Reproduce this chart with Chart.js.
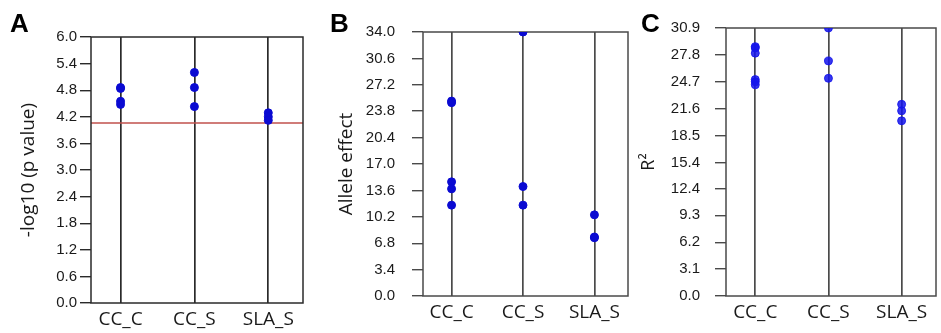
<!DOCTYPE html>
<html>
<head>
<meta charset="utf-8">
<script src="https://cdn.jsdelivr.net/npm/chart.js@4.4.0/dist/chart.umd.min.js"></script>
<style>
  body { margin: 0; background: #fff; }
  #wrap { position: relative; width: 941px; height: 333px; overflow: hidden; }
  .panel { position: absolute; top: 0; height: 333px; }
  .tag { position: absolute; font: bold 26px 'Liberation Sans', Arial, sans-serif; line-height: 26px; color: #000; }
</style>
</head>
<body>
<div id="wrap">
  <div class="panel" style="left:0;width:315px"><canvas id="chartA"></canvas></div>
  <div class="panel" style="left:315px;width:318px"><canvas id="chartB"></canvas></div>
  <div class="panel" style="left:633px;width:308px"><canvas id="chartC"></canvas></div>
  <div class="tag" style="left:10px;top:10px">A</div>
  <div class="tag" style="left:330px;top:10px">B</div>
  <div class="tag" style="left:641px;top:10px">C</div>
</div>
<script>
'use strict';

var categories = ['CC_C', 'CC_S', 'SLA_S'];

// panel A: -log10(p) of the hits, one list per trait
var logP = [[4.86, 4.84, 4.55, 4.48], [5.2, 4.86, 4.43], [4.29, 4.2, 4.12]];
var logPThreshold = 4.06;
var logPTicks = ['0.0', '0.6', '1.2', '1.8', '2.4', '3.0', '3.6', '4.2', '4.8', '5.4', '6.0'];

// panel B: allele effect
var alleleEffect = [[25.1, 24.9, 14.7, 13.8, 11.7], [34.0, 14.1, 11.7], [10.45, 7.6, 7.5]];
var alleleTicks = ['0.0', '3.4', '6.8', '10.2', '13.6', '17.0', '20.4', '23.8', '27.2', '30.6', '34.0'];

// panel C: R2
var rSquared = [[28.75, 28.6, 28.0, 24.95, 24.7, 24.35], [30.9, 27.1, 25.1], [22.1, 21.35, 20.2]];
var rSquaredTicks = ['0.0', '3.1', '6.2', '9.3', '12.4', '15.4', '18.5', '21.6', '24.7', '27.8', '30.9'];

// draws the frame round the plot area and the threshold line
var framePlugin = {
  id: 'frame',
  beforeDatasetsDraw: function(chart, args, opts) {
    var ctx = chart.ctx;
    var a = chart.chartArea;
    ctx.save();
    if (opts.threshold !== undefined) {
      var y = chart.scales.y.getPixelForValue(opts.threshold);
      ctx.strokeStyle = '#c0504d';
      ctx.lineWidth = 1.5;
      ctx.beginPath();
      ctx.moveTo(a.left, y);
      ctx.lineTo(a.right, y);
      ctx.stroke();
    }
    ctx.strokeStyle = opts.color;
    ctx.lineWidth = 1.5;
    ctx.strokeRect(a.left, a.top, a.right - a.left, a.bottom - a.top);
    ctx.restore();
  }
};

function makePanel(id, values, ticks, title, o) {
  var points = [];
  for (var i = 0; i < values.length; i++) {
    for (var j = 0; j < values[i].length; j++) {
      points.push({ x: i + 1, y: values[i][j] });
    }
  }
  var ctx = document.getElementById(id).getContext('2d');
  return new Chart(ctx, {
    type: 'scatter',
    data: {
      datasets: [{
        data: points,
        backgroundColor: o.dot,
        borderColor: o.dot,
        pointRadius: 4,
        pointHoverRadius: 4
      }]
    },
    options: {
      responsive: true,
      maintainAspectRatio: false,
      animation: false,
      layout: { padding: { top: o.top, right: o.right, left: 0, bottom: 0 } },
      plugins: {
        legend: { display: false },
        tooltip: { enabled: false },
        frame: { color: o.line, threshold: o.threshold }
      },
      scales: {
        x: {
          type: 'linear',
          min: 0.6,
          max: 3.47,
          afterBuildTicks: function(scale) {
            scale.ticks = categories.map(function(c, k) { return { value: k + 1 }; });
          },
          afterFit: function(scale) { scale.height = o.xHeight; },
          ticks: {
            callback: function(v, k) { return categories[k]; },
            font: { family: "'Open Sans'", size: 19 },
            color: '#1a1a1a',
            padding: 5,
            maxRotation: 0
          },
          grid: { color: o.line, lineWidth: 1.7, drawTicks: false },
          border: { display: false }
        },
        y: {
          min: 0,
          max: parseFloat(ticks[ticks.length - 1]),
          afterBuildTicks: function(scale) {
            scale.ticks = ticks.map(function(t) { return { value: parseFloat(t) }; });
          },
          afterFit: function(scale) { scale.width = o.yWidth; },
          ticks: {
            callback: function(v, k) { return ticks[k]; },
            font: { family: "'Liberation Sans'", size: 15 },
            color: '#1a1a1a',
            padding: o.tickPad
          },
          grid: { drawOnChartArea: false, drawTicks: true, tickLength: 11, color: o.line, lineWidth: 1.4 },
          border: { display: false },
          title: {
            display: true,
            text: title,
            font: { family: "'Open Sans'", size: o.titleSize },
            color: '#1a1a1a',
            padding: { top: o.titlePad, bottom: 0 }
          }
        }
      }
    },
    plugins: [framePlugin]
  });
}

makePanel('chartA', logP, logPTicks, '-log10 (p value)', {
  dot: '#0a0ad2', line: '#2a2a2a', threshold: logPThreshold,
  top: 37, right: 12, xHeight: 30, yWidth: 91, tickPad: 3, titleSize: 19, titlePad: 17
});
makePanel('chartB', alleleEffect, alleleTicks, 'Allele effect', {
  dot: '#0a0ad2', line: '#4a4a4a',
  top: 32, right: 2, xHeight: 37, yWidth: 108, tickPad: 17, titleSize: 19, titlePad: 20
});
makePanel('chartC', rSquared, rSquaredTicks, 'R\u00b2', {
  dot: 'rgba(20,20,235,0.85)', line: '#4a4a4a',
  top: 28, right: 1, xHeight: 37, yWidth: 93, tickPad: 15, titleSize: 18, titlePad: 5
});
</script>
</body>
</html>
